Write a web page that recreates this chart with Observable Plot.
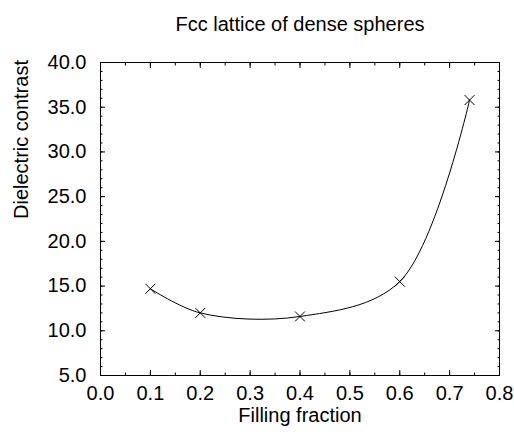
<!DOCTYPE html>
<html>
<head>
<meta charset="utf-8">
<script src="https://cdn.jsdelivr.net/npm/d3@7"></script>
<script src="https://cdn.jsdelivr.net/npm/@observablehq/plot@0.6"></script>
<style>
  html, body { margin: 0; padding: 0; background: #fff; }
  #chart svg { font-family: "Liberation Sans", Arial, sans-serif; }
</style>
</head>
<body>
<div id="chart"></div>
<script>
const title = "Fcc lattice of dense spheres";
const xLabel = "Filling fraction";
const yLabel = "Dielectric contrast";
const fillingFraction = [0.1, 0.2, 0.4, 0.6, 0.74];
const dielectricContrast = [14.7, 12.0, 11.6, 15.5, 35.8];
const xTicks = [0.0, 0.1, 0.2, 0.3, 0.4, 0.5, 0.6, 0.7, 0.8];
const xMinorTicks = d3.range(0, 0.8001, 0.05);
const yTicks = [5, 10, 15, 20, 25, 30, 35, 40];
const yMinorTicks = d3.range(5, 40.001, 1);

const data = fillingFraction.map((x, i) => ({x, y: dielectricContrast[i]}));
const fmt = d3.format(".1f");

const chart = Plot.plot({
  width: 514,
  height: 434,
  marginLeft: 100,
  marginRight: 15,
  marginTop: 62,
  marginBottom: 59,
  style: {fontSize: "20px", fontFamily: "Liberation Sans, Arial, sans-serif", color: "#000", background: "#fff"},
  x: {domain: [0, 0.8]},
  y: {domain: [5, 40]},
  marks: [
    Plot.frame({stroke: "#000"}),
    Plot.axisX({ticks: xMinorTicks, tickSize: -2.5, text: null, label: null, anchor: "bottom"}),
    Plot.axisX({ticks: xMinorTicks, tickSize: -2.5, text: null, label: null, anchor: "top"}),
    Plot.axisY({ticks: yMinorTicks, tickSize: -2.5, text: null, label: null, anchor: "left"}),
    Plot.axisY({ticks: yMinorTicks, tickSize: -2.5, text: null, label: null, anchor: "right"}),
    Plot.axisX({ticks: xTicks, tickSize: -5, tickPadding: 15, tickFormat: fmt, label: null, anchor: "bottom", fontSize: 20}),
    Plot.axisX({ticks: xTicks, tickSize: -5, text: null, label: null, anchor: "top"}),
    Plot.axisY({ticks: yTicks, tickSize: -5, tickPadding: 19, tickFormat: fmt, label: null, anchor: "left", fontSize: 20}),
    Plot.axisY({ticks: yTicks, tickSize: -5, text: null, label: null, anchor: "right"}),
    Plot.line(data, {x: "x", y: "y", curve: "catmull-rom", stroke: "#000", strokeWidth: 1}),
    Plot.dot(data, {x: "x", y: "y", symbol: "times", r: 4.6, stroke: "#000", strokeWidth: 1}),
    Plot.text([title], {frameAnchor: "top", dy: -45.5, fontSize: 20, fill: "#000"}),
    Plot.text([xLabel], {frameAnchor: "bottom", dy: 46, fontSize: 20, fill: "#000"}),
    Plot.text([yLabel], {frameAnchor: "left", dx: -79, rotate: -90, fontSize: 20, fill: "#000"})
  ]
});
document.getElementById("chart").appendChild(chart);
</script>
</body>
</html>
